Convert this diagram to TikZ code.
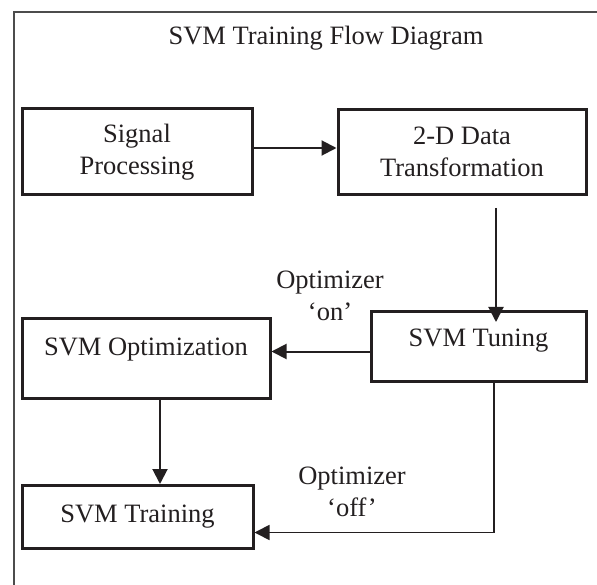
\documentclass[tikz,border=0pt]{standalone}
\usepackage{fontspec}
\setmainfont{Liberation Serif}
\usetikzlibrary{positioning, arrows.meta}
\definecolor{ink}{HTML}{231F20}
\tikzset{%
  every block/.style={
    rectangle,
    draw=ink,
    line width=3pt,
    text=ink,
    align=center,
    font=\fontsize{26.5}{32}\selectfont
  }
}

\begin{document}
\begin{tikzpicture}[x=1pt,y=-1pt,>={Triangle[length=15pt,width=15pt]},
  flow/.style={->, draw=ink, line width=2pt},
  tag/.style={text=ink, align=center, font=\fontsize{26.5}{32}\selectfont}]
		\useasboundingbox (0,0) rectangle (597,585);
		%% frame and title
		\draw[black!70, line width=1.6pt] (14,585) -- (14,12) -- (597,12);
		\node[tag] (title) at (326,38) {SVM Training Flow Diagram};
		%% top row
		\node[every block, minimum width=230pt, minimum height=86pt] (sig) at (137,152) {Signal\\Processing};
		\node[every block, minimum width=248pt, minimum height=85pt, right=83pt of sig] (dt) {2-D Data\\Transformation};
		%% middle row
		\node[every block, minimum width=215pt, minimum height=70pt, text height=12pt, text depth=12pt, below=114pt of dt.south east, anchor=north east] (tun) {SVM Tuning};
		\node[every block, minimum width=248pt, minimum height=80pt, text height=12pt, text depth=18pt, left=98pt of tun, yshift=-12pt] (opt) {SVM Optimization};
		%% bottom row
		\node[every block, minimum width=231pt, minimum height=63pt, below=84pt of opt.south west, anchor=north west] (trn) {SVM Training};
		%% optimizer switch
		\node[tag] (on) at (330,296) {Optimizer\\`on'};
		\node[tag] (off) at (352,492) {Optimizer\\`off'};
		%% connections
		\draw[flow] ([yshift=4pt]sig.east) -- ([yshift=4pt]sig.east -| dt.west);
		\draw[flow] ([xshift=34pt,yshift=-12pt]dt.south) -- ([xshift=34pt,yshift=-12pt]dt.south |- tun.north);
		\draw[flow] ([yshift=-5pt]tun.west) -- ([yshift=-5pt]tun.west -| opt.east);
		\draw[flow] ([xshift=14pt]opt.south) -- ([xshift=14pt]opt.south |- trn.north);
		\draw[flow, line width=1.7pt] ([xshift=15.5pt]tun.south) |- ([yshift=-15.5pt]trn.east);
	\end{tikzpicture}
\end{document}
